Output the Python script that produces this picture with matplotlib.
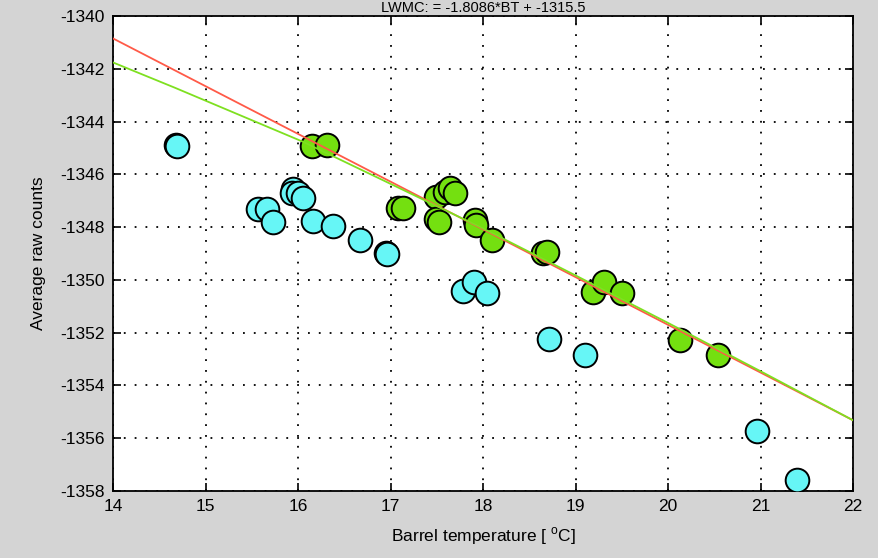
import matplotlib
matplotlib.use("Agg")
import matplotlib.pyplot as plt
import numpy as np

# ---- data ----
cyan_temp = [14.68, 14.69, 15.57, 15.66, 15.73, 15.95, 15.94, 16.00, 16.05,
             16.16, 16.38, 16.67, 16.95, 16.96, 17.78, 17.90, 18.04, 18.71,
             19.10, 20.96, 21.39]
cyan_counts = [-1344.90, -1344.93, -1347.31, -1347.31, -1347.80, -1346.55, -1346.70,
               -1346.72, -1346.90, -1347.77, -1347.96, -1348.49, -1348.98, -1349.00,
               -1350.42, -1350.08, -1350.50, -1352.24, -1352.85, -1355.73, -1357.58]

green_temp = [16.15, 16.31, 17.08, 17.14, 17.49, 17.59, 17.64, 17.70, 17.49, 17.52,
              17.91, 17.92, 18.10, 18.65, 18.69, 19.19, 19.31, 19.50, 20.13, 20.54]
green_counts = [-1344.93, -1344.89, -1347.28, -1347.28, -1346.86, -1346.67, -1346.52,
                -1346.71, -1347.69, -1347.80, -1347.73, -1347.92, -1348.49, -1348.98,
                -1348.94, -1350.46, -1350.08, -1350.50, -1352.28, -1352.85]

red_fit = [-1.8086, -1315.53]   # slope, intercept
green_fit_temp = [14.0, 14.67, 16.05, 17.0, 18.0, 19.0, 20.0, 21.0, 22.0]
green_fit_counts = [-1341.76, -1342.72, -1344.76, -1346.36, -1348.05, -1349.83,
                    -1351.63, -1353.46, -1355.32]

x_ticks = [14, 15, 16, 17, 18, 19, 20, 21, 22]
y_ticks = [-1358, -1356, -1354, -1352, -1350, -1348, -1346, -1344, -1342, -1340]

title_text = "LWMC: = -1.8086*BT + -1315.5"

# ---- style ----
plt.rcParams['font.family'] = ['Liberation Sans', 'DejaVu Sans']
plt.rcParams['mathtext.fontset'] = 'custom'
plt.rcParams['mathtext.rm'] = 'Liberation Sans'

bg = '#d4d4d4'
fig = plt.figure(figsize=(8.79, 5.58), dpi=100, facecolor=bg)
ax = fig.add_axes([113/879, 1-491/558, (853-113)/879, (491-16)/558])
ax.set_facecolor('white')

ax.scatter(cyan_temp, cyan_counts, s=290, c='#66f6f6', edgecolors='black',
           linewidths=1.4, zorder=3)
ax.scatter(green_temp, green_counts, s=290, c='#74e010', edgecolors='black',
           linewidths=1.4, zorder=3)

xl = np.array([14.0, 22.0])
ax.plot(xl, np.polyval(red_fit, xl), color='#ff5a48', lw=1.3, zorder=4)
ax.plot(green_fit_temp, green_fit_counts, color='#7ee020', lw=1.3, zorder=4)

ax.set_xlim(14, 22)
ax.set_ylim(-1358, -1340)
ax.set_xticks(x_ticks)
ax.set_yticks(y_ticks)
ax.set_xticklabels([str(t) for t in x_ticks])
ax.set_yticklabels([str(t) for t in y_ticks])
ax.grid(True, color='black', linestyle=(0, (1, 5)), linewidth=1.3)
ax.set_axisbelow(True)
ax.tick_params(direction='in', length=6, width=1.2, top=True, right=True,
               labelsize=12.5, pad=6)
for s in ax.spines.values():
    s.set_linewidth(1.3)

ax.set_xlabel('Barrel temperature [ $^{\\mathrm{o}}$C]', fontsize=12.5, labelpad=8)
ax.set_ylabel('Average raw counts', fontsize=12.5, labelpad=10)

fig.text(483/879, 1-8/558, title_text, ha='center', va='center', fontsize=10.5)

fig.savefig('out.png', dpi=100, facecolor=bg)
